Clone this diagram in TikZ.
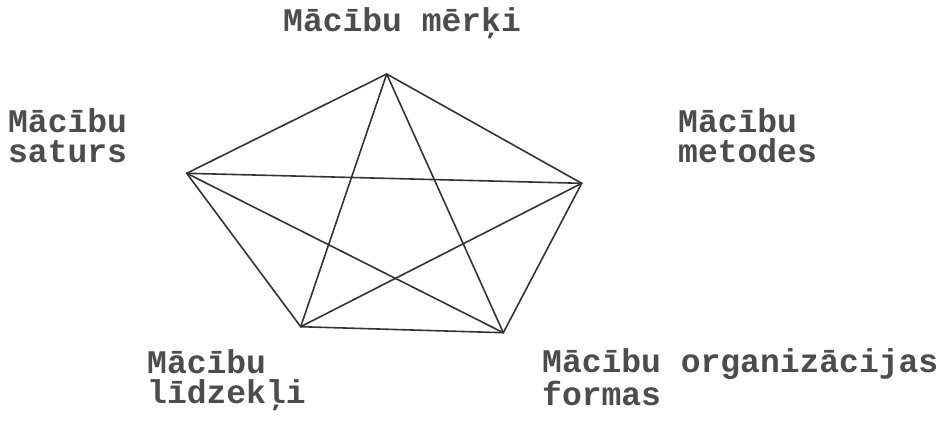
\documentclass[tikz,border=0pt]{standalone}
\usepackage{fontspec}
\setmonofont{Liberation Mono}
\begin{document}
\begin{tikzpicture}[x=1pt,y=-1pt,
  lbl/.style={anchor=base west,inner sep=0pt,align=left,text=black!70,
    font=\ttfamily\bfseries\fontsize{33}{30}\selectfont},
  edge/.style={draw=black!80,line width=1.6pt,line cap=round}]
\useasboundingbox (0,0) rectangle (937,441);
\coordinate (T) at (386.7,74);
\coordinate (L) at (186.7,173.3);
\coordinate (R) at (581.7,183.3);
\coordinate (BL) at (300.7,326.7);
\coordinate (BR) at (503.3,332.7);
% pentagon
\draw[edge] (T) -- (R) -- (BR) -- (BL) -- (L) -- cycle;
% star
\draw[edge] (T) -- (BL);
\draw[edge] (T) -- (BR);
\draw[edge] (L) -- (R);
\draw[edge] (L) -- (BR);
\draw[edge] (R) -- (BL);
% labels
\node[lbl] (lt) at (283,32) {Mācību mērķi};
\node[lbl] (ll) at (8,163) {Mācību\\saturs};
\node[lbl] (lr) at (678,162) {Mācību\\metodes};
\node[lbl] (lbl1) at (147,403) {Mācību\\līdzekļi};
\node[lbl] (lbr) at (542,405) {Mācību organizācijas\\formas};
\end{tikzpicture}
\end{document}
